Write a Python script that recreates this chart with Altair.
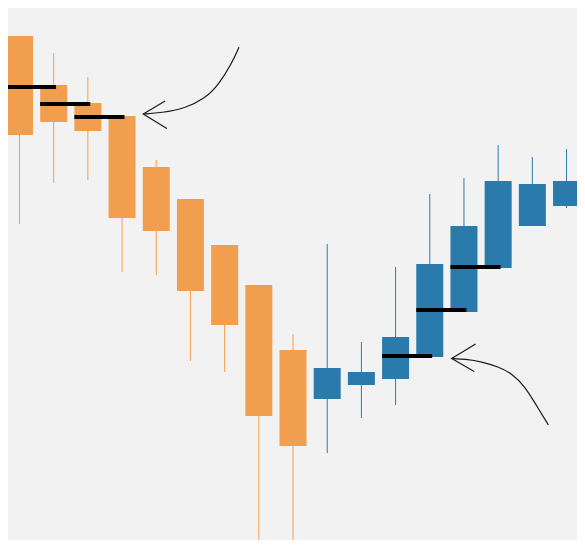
"""
Candlestick chart: a falling run (orange) followed by a rising run (blue),
with the gap levels marked in black and two hand-drawn arrows.
"""

import altair as alt
import pandas as pd

ORANGE = "#f29e4f"
BLUE = "#2a7bab"
BG = "#f2f2f2"

# candle values
opens = [228.0, 215.75, 211.25, 208.0, 195.25, 187.25, 175.75, 165.75, 149.5,
         137.25, 140.75, 142.25, 147.75, 159.0, 170.0, 180.5, 185.5]
closes = [203.25, 206.5, 204.25, 182.5, 179.25, 164.25, 155.75, 133.0, 125.5,
          145.0, 144.0, 152.75, 171.0, 180.5, 191.75, 191.0, 191.75]
highs = [228.0, 223.75, 217.75, 208.0, 197.0, 187.25, 175.75, 165.75, 153.5,
         176.0, 151.5, 170.25, 188.5, 192.5, 200.75, 197.75, 199.75]
lows = [181.0, 191.25, 192.0, 169.0, 168.25, 146.75, 144.0, 101.75, 101.25,
        123.75, 132.5, 135.75, 147.75, 159.0, 170.0, 180.5, 185.0]

# black gap markers: start candle index and level (the next candle's open)
marker_idx = [0, 1, 2, 11, 12, 13]
marker_level = [215.25, 211.0, 207.75, 148.0, 159.5, 170.25]

# arrow curves and heads, in data units
arrow1_x = [6.42, 6.21, 5.82, 5.43, 4.84, 4.16, 3.62]
arrow1_y = [225.2, 221.2, 215.75, 212.4, 209.9, 208.8, 208.5]
arrow1_head_x = [4.26, 3.62, 4.31]
arrow1_head_y = [211.75, 208.5, 204.9]

arrow2_x = [12.64, 13.03, 13.52, 14.0, 14.4, 14.79, 15.08, 15.47]
arrow2_y = [147.4, 147.2, 146.6, 145.3, 143.7, 140.3, 136.2, 130.75]
arrow2_head_x = [13.34, 12.64, 13.3]
arrow2_head_y = [151.0, 147.4, 144.1]

candles = pd.DataFrame(
    {
        "i": range(len(opens)),
        "open": opens,
        "close": closes,
        "high": highs,
        "low": lows,
    }
)
candles["dir"] = ["up" if c > o else "down" for o, c in zip(opens, closes)]

markers = pd.DataFrame({"i": marker_idx, "level": marker_level})

curves = pd.concat(
    [
        pd.DataFrame({"x": arrow1_x, "y": arrow1_y, "g": "a1", "k": range(len(arrow1_x))}),
        pd.DataFrame({"x": arrow2_x, "y": arrow2_y, "g": "a2", "k": range(len(arrow2_x))}),
    ]
)
heads = pd.concat(
    [
        pd.DataFrame({"x": arrow1_head_x, "y": arrow1_head_y, "g": "h1", "k": range(3)}),
        pd.DataFrame({"x": arrow2_head_x, "y": arrow2_head_y, "g": "h2", "k": range(3)}),
    ]
)

x_scale = alt.Scale(domain=[-0.336, 16.306], nice=False, zero=False, padding=0)
y_scale = alt.Scale(domain=[102, 235], nice=False, zero=False, padding=0)
color = alt.Color(
    "dir:N",
    scale=alt.Scale(domain=["down", "up"], range=[ORANGE, BLUE]),
    legend=None,
)

base = alt.Chart(candles).encode(
    x=alt.X("i:Q", scale=x_scale, axis=None),
    color=color,
)

wicks = base.mark_rule(strokeWidth=1, clip=True).encode(
    y=alt.Y("low:Q", scale=y_scale, axis=None),
    y2="high:Q",
)

bodies = base.mark_bar(size=27, clip=True).encode(
    y=alt.Y("open:Q", scale=y_scale, axis=None),
    y2="close:Q",
)

gap_lines = (
    alt.Chart(markers)
    .transform_calculate(x0="datum.i - 0.395", x1="datum.i + 1.07")
    .mark_rule(color="black", strokeWidth=4, strokeCap="butt", clip=True)
    .encode(
        x=alt.X("x0:Q", scale=x_scale, axis=None),
        x2="x1:Q",
        y=alt.Y("level:Q", scale=y_scale, axis=None),
    )
)

arrow_curves = (
    alt.Chart(curves)
    .mark_line(color="#1a1a1a", strokeWidth=1.2, interpolate="basis", clip=True)
    .encode(
        x=alt.X("x:Q", scale=x_scale, axis=None),
        y=alt.Y("y:Q", scale=y_scale, axis=None),
        detail="g:N",
        order="k:Q",
    )
)

arrow_heads = (
    alt.Chart(heads)
    .mark_line(color="#1a1a1a", strokeWidth=1.2, clip=True)
    .encode(
        x=alt.X("x:Q", scale=x_scale, axis=None),
        y=alt.Y("y:Q", scale=y_scale, axis=None),
        detail="g:N",
        order="k:Q",
    )
)

chart = (
    alt.layer(wicks, bodies, gap_lines, arrow_curves, arrow_heads)
    .properties(
        width=569,
        height=532,
        padding=0,
        background=BG,
        autosize=alt.AutoSizeParams(type="none"),
    )
    .configure_view(stroke=None)
)

chart.save("out.html", embed_options={"renderer": "svg", "actions": False})
